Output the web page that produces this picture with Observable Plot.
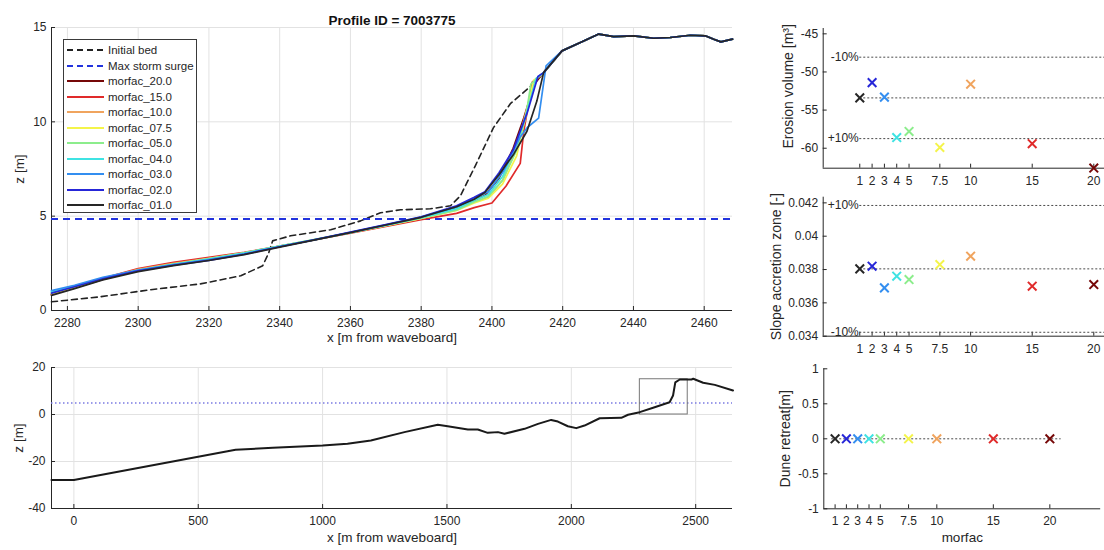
<!DOCTYPE html>
<html><head><meta charset="utf-8">
<script src="https://cdn.jsdelivr.net/npm/d3@7"></script>
<script src="https://cdn.jsdelivr.net/npm/@observablehq/plot@0.6"></script>
<style>
body{margin:0;background:#fff;}
#wrap{position:relative;width:1104px;height:550px;overflow:hidden;font-family:"Liberation Sans",Arial,sans-serif;color:#262626;background:#fff;}
.panel{position:absolute;}
#legend{position:absolute;left:63px;top:39px;width:134px;height:174px;border:1px solid #3a3a3a;background:#fff;box-sizing:border-box;font-size:11.5px;}
.lrow{position:absolute;left:0;height:14px;display:flex;align-items:center;white-space:nowrap;}
.lrow svg{display:block;}
</style></head><body><div id="wrap"></div>
<script>
// ---------- data ----------
const seriesNames = ["morfac_20.0","morfac_15.0","morfac_10.0","morfac_07.5","morfac_05.0","morfac_04.0","morfac_03.0","morfac_02.0","morfac_01.0"];
const morfacValues = [20, 15, 10, 7.5, 5, 4, 3, 2, 1];
const erosionVolume = [-62.6, -59.4, -51.6, -59.9, -57.8, -58.6, -53.3, -51.4, -53.4];
const slopeAccretion = [0.0371, 0.0370, 0.0388, 0.0383, 0.0374, 0.0376, 0.0369, 0.0382, 0.03804];
const duneRetreat = [0, 0, 0, 0, 0, 0, 0, 0, 0];
const morfacTicks = [1, 2, 3, 4, 5, 7.5, 10, 15, 20];
const stormSurge = 4.85;
const profileId = "7003775";

// final profiles: lower beach (shared x) + scarp (own x) + dune crest
const lowerX = [2275.5, 2282, 2290, 2300, 2310, 2320, 2330, 2340, 2350, 2360, 2370, 2380, 2390];
const lowerZ_20 = [0.85, 1.20, 1.65, 2.12, 2.45, 2.72, 3.02, 3.40, 3.75, 4.12, 4.50, 4.90, 5.42];
const lowerZ_15 = [0.85, 1.22, 1.70, 2.22, 2.55, 2.82, 3.08, 3.42, 3.75, 4.10, 4.46, 4.82, 5.15];
const lowerZ_10 = [0.88, 1.22, 1.68, 2.18, 2.50, 2.77, 3.05, 3.41, 3.76, 4.12, 4.49, 4.88, 5.35];
const lowerZ_075 = [0.90, 1.24, 1.68, 2.14, 2.46, 2.74, 3.04, 3.40, 3.76, 4.12, 4.50, 4.88, 5.30];
const lowerZ_05 = [0.95, 1.28, 1.70, 2.14, 2.46, 2.75, 3.06, 3.42, 3.77, 4.13, 4.51, 4.90, 5.32];
const lowerZ_04 = [1.00, 1.30, 1.72, 2.13, 2.45, 2.73, 3.04, 3.41, 3.76, 4.13, 4.52, 4.92, 5.40];
const lowerZ_03 = [1.05, 1.34, 1.76, 2.14, 2.44, 2.70, 3.00, 3.38, 3.75, 4.14, 4.54, 4.95, 5.50];
const lowerZ_02 = [0.92, 1.26, 1.68, 2.10, 2.40, 2.66, 2.98, 3.38, 3.76, 4.15, 4.55, 4.96, 5.55];
const lowerZ_01 = [0.80, 1.16, 1.62, 2.06, 2.38, 2.65, 2.96, 3.36, 3.74, 4.13, 4.53, 4.94, 5.50];

const scarpX_20 = [2395, 2398, 2402, 2406, 2409, 2412, 2414.6];
const scarpZ_20 = [5.85, 6.10, 7.00, 8.60, 10.2, 12.0, 12.61];
const scarpX_15 = [2395, 2400, 2404, 2408, 2409, 2411.4, 2414.6];
const scarpZ_15 = [5.45, 5.70, 6.60, 7.80, 9.50, 12.1, 12.61];
const scarpX_10 = [2395, 2399, 2403, 2407, 2410, 2412, 2414.6];
const scarpZ_10 = [5.75, 6.00, 6.90, 8.60, 10.8, 12.2, 12.61];
const scarpX_075 = [2395, 2399, 2403, 2407, 2409.5, 2411.8, 2414.6];
const scarpZ_075 = [5.70, 5.95, 6.70, 8.20, 10.3, 12.2, 12.61];
const scarpX_05 = [2395, 2399, 2403, 2407, 2409.5, 2411, 2414.6];
const scarpZ_05 = [5.75, 6.05, 6.90, 8.50, 10.2, 12.0, 12.61];
const scarpX_04 = [2395, 2399, 2403, 2407, 2410, 2412.5, 2414.6];
const scarpZ_04 = [5.85, 6.15, 7.10, 8.80, 10.6, 12.3, 12.61];
const scarpX_03 = [2395, 2399, 2403.3, 2408, 2410, 2413.2, 2415.3];
const scarpZ_03 = [5.95, 6.30, 7.40, 9.20, 9.70, 10.2, 12.97];
const scarpX_02 = [2395, 2398, 2402, 2406, 2410, 2413, 2414.6];
const scarpZ_02 = [6.00, 6.30, 7.30, 8.50, 10.5, 12.4, 12.61];
const scarpX_01 = [2395, 2398, 2402, 2406.2, 2409.9, 2412.7, 2414.6];
const scarpZ_01 = [5.90, 6.25, 7.20, 8.30, 9.50, 11.1, 12.61];

const crestX = [2414.6, 2419.8, 2425, 2430.2, 2434.4, 2440.1, 2445.7, 2450.4, 2456.1, 2460.3, 2462.7, 2464.7, 2468];
const crestZ = [12.61, 13.76, 14.2, 14.65, 14.52, 14.56, 14.43, 14.47, 14.59, 14.56, 14.38, 14.24, 14.38];

const initX = [2275.5, 2289.4, 2303.5, 2317.6, 2329.0, 2335.2, 2336.9, 2338.0, 2343.1, 2354.4, 2362.9, 2368.5, 2374.2, 2382.6, 2388.3, 2391.1, 2395.3, 2400.4, 2405.2, 2411.4];
const initZ = [0.46, 0.73, 1.10, 1.41, 1.84, 2.37, 3.06, 3.69, 3.96, 4.28, 4.75, 5.18, 5.34, 5.39, 5.55, 6.08, 7.67, 9.68, 10.96, 11.96];

// full cross-shore profile (bottom panel)
const fullX = [-90, 0, 650, 800, 1000, 1100, 1194, 1329, 1463, 1503, 1584, 1624, 1664, 1705, 1731, 1812, 1866, 1919, 1946, 1986, 2020, 2053, 2114, 2201, 2228, 2275, 2335, 2395, 2409, 2418, 2436, 2483, 2490, 2530, 2577, 2650];
const fullZ = [-27.9, -27.9, -15.0, -14.2, -13.2, -12.4, -11.1, -7.5, -4.4, -5.0, -6.4, -6.4, -7.8, -7.5, -8.2, -6.1, -4.0, -2.3, -3.0, -5.0, -5.8, -4.7, -1.6, -1.4, -0.1, 1.0, 3.1, 5.2, 8.1, 13.7, 14.9, 14.9, 15.2, 13.5, 12.6, 10.2];

// axis ticks
const mainXTicks = [2280, 2300, 2320, 2340, 2360, 2380, 2400, 2420, 2440, 2460];
const mainYTicks = [0, 5, 10, 15];
const fullXTicks = [0, 500, 1000, 1500, 2000, 2500];
const fullYTicks = [-40, -20, 0, 20];
const erosionTicks = [-60, -55, -50, -45];
const slopeTicks = [0.034, 0.036, 0.038, 0.04, 0.042];
const retreatTicks = [-1, -0.5, 0, 0.5, 1];

// ---------- styling ----------
const palette = ["#760808", "#e02a2a", "#f0a45e", "#f4f44a", "#8ced8c", "#3fe3e3", "#338ef0", "#2626d8", "#262626"];
const axisColor = "#262626";
const fmt = d => String(d);
const baseStyle = {fontFamily: "'Liberation Sans', Arial, sans-serif", fontSize: "12px", color: "#262626", background: "none", overflow: "visible"};
const colorScale = {domain: seriesNames, range: palette};

const lowerZ = [lowerZ_20, lowerZ_15, lowerZ_10, lowerZ_075, lowerZ_05, lowerZ_04, lowerZ_03, lowerZ_02, lowerZ_01];
const scarpX = [scarpX_20, scarpX_15, scarpX_10, scarpX_075, scarpX_05, scarpX_04, scarpX_03, scarpX_02, scarpX_01];
const scarpZ = [scarpZ_20, scarpZ_15, scarpZ_10, scarpZ_075, scarpZ_05, scarpZ_04, scarpZ_03, scarpZ_02, scarpZ_01];

const profileRows = [];
seriesNames.forEach((name, i) => {
  lowerX.forEach((x, j) => profileRows.push({name, x, z: lowerZ[i][j]}));
  scarpX[i].forEach((x, j) => profileRows.push({name, x, z: scarpZ[i][j]}));
  const lastX = scarpX[i][scarpX[i].length - 1];
  crestX.forEach((x, j) => { if (x > lastX) profileRows.push({name, x, z: crestZ[j]}); });
});
const initRows = initX.map((x, i) => ({x, z: initZ[i]}))
  .concat(crestX.map((x, i) => ({x, z: crestZ[i]})).filter(d => d.x > initX[initX.length - 1]));
const fullRows = fullX.map((x, i) => ({x, z: fullZ[i]}));

function frameMarks({w, h, ml, mr, mt, mb, xDomain, yDomain, xTicks, yTicks, grid, xLabel, yLabel, xLabelDy, yLabelDx, yLabelDy = 0, yPad = 5, labelSize = 13.5}) {
  const iw = w - ml - mr, ih = h - mt - mb;
  const m = [];
  if (grid) {
    m.push(Plot.ruleX(xTicks, {x: d => d, stroke: "#e2e2e2"}));
    m.push(Plot.ruleY(yTicks, {y: d => d, stroke: "#e2e2e2"}));
  }
  m.push(Plot.ruleY([yDomain[0]], {y: d => d, stroke: axisColor}));
  m.push(Plot.ruleX([xDomain[0]], {x: d => d, stroke: axisColor}));
  m.push(Plot.tickX(xTicks, {x: d => d, stroke: axisColor, insetTop: ih - 4}));
  m.push(Plot.tickY(yTicks, {y: d => d, stroke: axisColor, insetRight: iw - 4}));
  m.push(Plot.axisX({ticks: xTicks, tickSize: 0, tickPadding: 8, tickFormat: fmt, label: null}));
  m.push(Plot.axisY({ticks: yTicks, tickSize: 0, tickPadding: yPad, tickFormat: fmt, label: null}));
  if (xLabel) m.push(Plot.text([xLabel], {frameAnchor: "bottom", textAnchor: "middle", dy: xLabelDy, fontSize: 13.5, fill: axisColor}));
  if (yLabel) m.push(Plot.text([yLabel], {frameAnchor: "left", textAnchor: "middle", rotate: -90, dx: yLabelDx, dy: yLabelDy, fontSize: labelSize, fill: axisColor}));
  return m;
}

const wrap = document.getElementById("wrap");
function place(svg, left, top) {
  const d = document.createElement("div");
  d.className = "panel"; d.style.left = left + "px"; d.style.top = top + "px";
  d.appendChild(svg); wrap.appendChild(d);
}

// ---------- main profile panel ----------
{
  const g = {w: 745, h: 352, ml: 51, mr: 13, mt: 27, mb: 42, xDomain: [2275.5, 2468], yDomain: [0, 15]};
  const svg = Plot.plot({
    width: g.w, height: g.h, marginLeft: g.ml, marginRight: g.mr, marginTop: g.mt, marginBottom: g.mb,
    style: baseStyle,
    x: {domain: g.xDomain, axis: null},
    y: {domain: g.yDomain, axis: null},
    color: colorScale,
    marks: [
      ...frameMarks({...g, xTicks: mainXTicks, yTicks: mainYTicks, grid: true, xLabel: "x [m from waveboard]", yLabel: "z [m]", xLabelDy: 31, yLabelDx: -32}),
      Plot.line(initRows, {x: "x", y: "z", stroke: "#222", strokeWidth: 1.6, strokeDasharray: "6,4"}),
      Plot.ruleY([stormSurge], {y: d => d, stroke: "#2233dd", strokeWidth: 2, strokeDasharray: "7,5"}),
      Plot.line(profileRows, {x: "x", y: "z", z: "name", stroke: "name", strokeWidth: 1.7}),
      Plot.text(["Profile ID = " + profileId], {frameAnchor: "top", textAnchor: "middle", dy: -12, fontWeight: "bold", fontSize: 13.5, fill: "#111"})
    ]
  });
  place(svg, 0, 0);
}

// ---------- full profile panel ----------
{
  const g = {w: 745, h: 195, ml: 51, mr: 13, mt: 12, mb: 42, xDomain: [-90, 2648], yDomain: [-40, 20]};
  const svg = Plot.plot({
    width: g.w, height: g.h, marginLeft: g.ml, marginRight: g.mr, marginTop: g.mt, marginBottom: g.mb,
    style: baseStyle,
    x: {domain: g.xDomain, axis: null},
    y: {domain: g.yDomain, axis: null},
    marks: [
      ...frameMarks({...g, xTicks: fullXTicks, yTicks: fullYTicks, grid: true, xLabel: "x [m from waveboard]", yLabel: "z [m]", xLabelDy: 33, yLabelDx: -33, yPad: 6}),
      Plot.ruleY([stormSurge], {y: d => d, stroke: "#7b7be2", strokeWidth: 1.5, strokeDasharray: "1.5,2.5"}),
      Plot.rect([{x1: 2275.5, x2: 2468, y1: 0, y2: 15}], {x1: "x1", x2: "x2", y1: "y1", y2: "y2", fill: "none", stroke: "#777", strokeWidth: 1}),
      Plot.line(fullRows, {x: "x", y: "z", stroke: "#1a1a1a", strokeWidth: 2})
    ]
  });
  place(svg, 0, 355);
}

// ---------- right panels ----------
function metricPanel({top, h, ml, mr, mt, mb, xDomain, yDomain, yTicks, values, yLabel, yLabelDx, yLabelDy = 0, refs, refExtent, xLabel}) {
  const w = 334;
  const rows = morfacValues.map((m, i) => ({m, v: values[i], name: seriesNames[i]}));
  const marks = [
    ...frameMarks({w, h, ml, mr, mt, mb, xDomain, yDomain, xTicks: morfacTicks, yTicks, grid: false, yLabel, yLabelDx, yLabelDy, xLabel, xLabelDy: 33, labelSize: 14}),
    Plot.ruleY(refs, {y: "v", x1: () => refExtent[0], x2: () => refExtent[1], stroke: "#4a4a4a", strokeWidth: 1, strokeDasharray: "2,2"}),
    Plot.text(refs.filter(r => r.label), {x: () => refExtent[0], y: "v", text: "label", textAnchor: "end", dx: -1, fontSize: 12, fill: axisColor}),
    Plot.dot(rows, {x: "m", y: "v", stroke: "name", symbol: "times", r: 4, strokeWidth: 2})
  ];
  const svg = Plot.plot({
    width: w, height: h, marginLeft: ml, marginRight: mr, marginTop: mt, marginBottom: mb,
    style: baseStyle,
    x: {domain: xDomain, axis: null},
    y: {domain: yDomain, axis: null},
    color: colorScale,
    marks
  });
  place(svg, 770, top);
}
const idxBase = morfacValues.indexOf(1);
{
  const b = erosionVolume[idxBase];
  metricPanel({top: 0, h: 195, ml: 52.7, mr: 0, mt: 28, mb: 27.3, xDomain: [-1.97, 20.87], yDomain: [-62.62, -44.3], yTicks: erosionTicks,
    values: erosionVolume, yLabel: "Erosion volume [m³]", yLabelDx: -35, yLabelDy: -12,
    refs: [{v: b, label: ""}, {v: b * 0.9, label: "-10%"}, {v: b * 1.1, label: "+10%"}], refExtent: [1, 20.87]});
}
{
  const b = slopeAccretion[idxBase];
  metricPanel({top: 190, h: 170, ml: 52.7, mr: 0, mt: 6.7, mb: 24.3, xDomain: [-1.97, 20.87], yDomain: [0.034, 0.04234], yTicks: slopeTicks,
    values: slopeAccretion, yLabel: "Slope accretion zone [-]", yLabelDx: -47,
    refs: [{v: b, label: ""}, {v: b * 0.9, label: "-10%"}, {v: b * 1.1, label: "+10%"}], refExtent: [1, 20.87]});
}
{
  metricPanel({top: 355, h: 195, ml: 53.3, mr: 3.8, mt: 13.3, mb: 41.7, xDomain: [0, 24.5], yDomain: [-1, 1], yTicks: retreatTicks,
    values: duneRetreat, yLabel: "Dune retreat[m]", yLabelDx: -38, xLabel: "morfac",
    refs: [{v: duneRetreat[idxBase], label: ""}], refExtent: [0.7, 21]});
}

// ---------- legend ----------
{
  const leg = document.createElement("div");
  leg.id = "legend";
  const items = [{name: "Initial bed", color: "#222", dash: "6,4"}, {name: "Max storm surge", color: "#2233dd", dash: "6,4"}]
    .concat(seriesNames.map((n, i) => ({name: n, color: palette[i], dash: null})));
  items.forEach((it, i) => {
    const row = document.createElement("div");
    row.className = "lrow";
    row.style.top = (3.3 + i * 15.5) + "px";
    const s = d3.create("svg").attr("width", 43).attr("height", 14);
    s.append("line").attr("x1", 3).attr("x2", 40).attr("y1", 7).attr("y2", 7)
      .attr("stroke", it.color).attr("stroke-width", 2).attr("stroke-dasharray", it.dash);
    row.appendChild(s.node());
    const t = document.createElement("span");
    t.textContent = it.name; t.style.marginLeft = "1px";
    row.appendChild(t);
    leg.appendChild(row);
  });
  wrap.appendChild(leg);
}
</script></body></html>
